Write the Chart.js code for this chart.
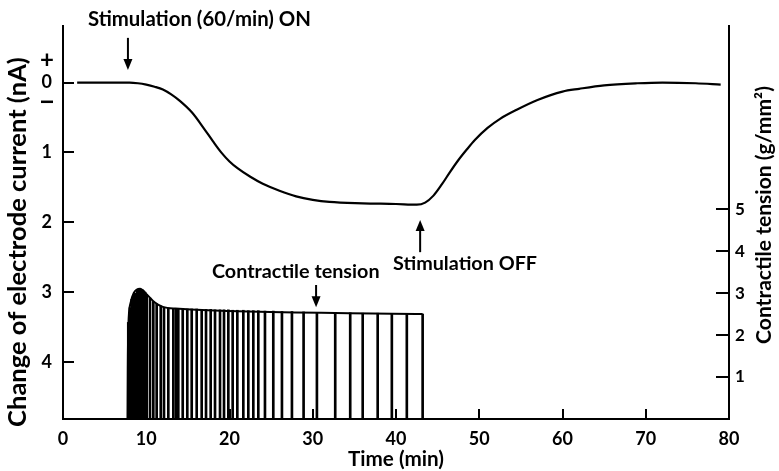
<!DOCTYPE html>
<html>
<head>
<meta charset="utf-8">
<script src="https://cdn.jsdelivr.net/npm/chart.js@4/dist/chart.umd.min.js"></script>
<style>
  body { margin: 0; background: #fff; }
  canvas { display: block; }
</style>
</head>
<body>
<canvas id="chart" width="779" height="471"></canvas>
<script>
// electrode current trace (min, nA; positive = downward)
const currentTime = [1.7, 5, 8, 9, 10, 11, 12, 13, 14, 15.5, 17, 18, 19, 20, 21, 22.5, 24, 26, 28, 30, 32, 36, 40, 42.5, 43.5, 44.5, 45.5, 46.5, 47.5, 48.5, 49.5, 51, 52.5, 54.5, 57, 60, 62, 65, 69, 72, 76, 79];
const currentNA = [0, 0, 0, 0.01, 0.03, 0.06, 0.1, 0.17, 0.26, 0.43, 0.67, 0.84, 1.0, 1.13, 1.23, 1.35, 1.45, 1.55, 1.63, 1.68, 1.71, 1.73, 1.74, 1.75, 1.72, 1.62, 1.46, 1.28, 1.11, 0.96, 0.82, 0.65, 0.52, 0.39, 0.25, 0.13, 0.09, 0.04, 0.01, 0.0, 0.01, 0.03];

// contractile tension: individual twitches (min, g/mm2)
const twitchTime = [7.84, 8.05, 8.25, 8.45, 8.65, 8.92, 9.05, 9.25, 9.4, 9.53, 9.7, 9.85, 10.05, 10.45, 10.85, 11.25, 11.74, 12.13, 12.65, 13.25, 13.57, 13.85, 14.38, 14.93, 15.46, 16.06, 16.66, 17.18, 17.74, 18.26, 18.86, 19.34, 19.86, 20.38, 20.94, 21.66, 22.26, 22.86, 23.46, 24.26, 25.26, 26.3, 27.5, 28.9, 30.5, 32.7, 34.5, 36.0, 37.8, 39.5, 41.3, 43.2];
const twitchTension = [2.3, 2.65, 2.85, 2.95, 3.0, 3.06, 3.08, 3.1, 3.09, 3.08, 3.05, 3.02, 2.97, 2.88, 2.8, 2.74, 2.69, 2.66, 2.64, 2.63, 2.63, 2.63, 2.63, 2.62, 2.62, 2.62, 2.61, 2.61, 2.61, 2.6, 2.6, 2.6, 2.6, 2.59, 2.59, 2.59, 2.58, 2.58, 2.58, 2.57, 2.57, 2.56, 2.56, 2.55, 2.54, 2.53, 2.53, 2.52, 2.52, 2.51, 2.5, 2.5];

// outline of the tension record
const envelopeTime = [7.75, 7.78, 7.85, 8.1, 8.5, 9.25, 10, 11, 12, 13.5, 43.2];
const envelopeTension = [0, 1.2, 2.2, 2.75, 3.0, 3.1, 2.98, 2.78, 2.67, 2.63, 2.5];

const timeTicks = [0, 10, 20, 30, 40, 50, 60, 70, 80];
const currentTicks = [0, 1, 2, 3, 4];
const tensionTicks = [1, 2, 3, 4, 5];

const FONT = 'Lato';

function pts(xs, ys) {
    return xs.map((x, i) => ({ x: x, y: ys[i] }));
}

function fitSize(ctx, text, width, weight) {
    ctx.font = weight + ' 20px ' + FONT;
    return 20 * width / ctx.measureText(text).width;
}

function drawText(ctx, text, x, y, size, weight, align) {
    ctx.font = weight + ' ' + size.toFixed(2) + 'px ' + FONT;
    ctx.textAlign = align || 'left';
    ctx.textBaseline = 'middle';
    ctx.fillText(text, x, y);
}

function arrow(ctx, x, y1, y2) {
    // shaft from y1 to head at y2
    const dir = y2 > y1 ? 1 : -1;
    ctx.beginPath();
    ctx.moveTo(x, y1);
    ctx.lineTo(x, y2 - dir * 8);
    ctx.lineWidth = 2;
    ctx.stroke();
    ctx.beginPath();
    ctx.moveTo(x, y2);
    ctx.lineTo(x - 4.5, y2 - dir * 11);
    ctx.lineTo(x + 4.5, y2 - dir * 11);
    ctx.closePath();
    ctx.fill();
}

const decorations = {
    id: 'decorations',
    afterDraw(chart) {
        const ctx = chart.ctx;
        const x = chart.scales.x, y = chart.scales.y, y2 = chart.scales.y2;
        const area = chart.chartArea;
        ctx.save();
        ctx.fillStyle = '#000';
        ctx.strokeStyle = '#000';
        ctx.lineWidth = 2;

        // inner tick marks
        ctx.beginPath();
        currentTicks.forEach(v => {
            const py = Math.round(y.getPixelForValue(v));
            ctx.moveTo(area.left, py);
            ctx.lineTo(area.left + 11, py);
        });
        tensionTicks.forEach(v => {
            const py = Math.round(y2.getPixelForValue(v));
            ctx.moveTo(area.right, py);
            ctx.lineTo(area.right - 13, py);
        });
        timeTicks.slice(1, -1).forEach(v => {
            const px = Math.round(x.getPixelForValue(v));
            ctx.moveTo(px, area.bottom);
            ctx.lineTo(px, area.bottom - 10);
        });
        ctx.stroke();

        // + / - around zero
        const z = y.getPixelForValue(0);
        ctx.font = 'bold 24px ' + FONT;
        ctx.textAlign = 'center';
        ctx.textBaseline = 'middle';
        ctx.fillText('+', 47, z - 22);
        ctx.fillRect(41, z + 18, 12, 2.5);

        // axis titles
        ctx.save();
        ctx.translate(18, 242);
        ctx.rotate(-Math.PI / 2);
        drawText(ctx, 'Change of electrode current (nA)', 0, 0,
            fitSize(ctx, 'Change of electrode current (nA)', 370, 'bold'), 'bold', 'center');
        ctx.restore();

        ctx.save();
        ctx.translate(764, 215);
        ctx.rotate(-Math.PI / 2);
        drawText(ctx, 'Contractile tension (g/mm\u00B2)', 0, 0,
            fitSize(ctx, 'Contractile tension (g/mm\u00B2)', 258, 'bold'), 'bold', 'center');
        ctx.restore();

        drawText(ctx, 'Time (min)', (area.left + area.right) / 2, 459,
            fitSize(ctx, 'Time (min)', 96, 'bold'), 'bold', 'center');

        // annotations
        const noteSize = fitSize(ctx, 'Stimulation OFF', 144, 'bold');
        drawText(ctx, 'Stimulation (60/min) ON', 88, 19, fitSize(ctx, 'Stimulation (60/min) ON', 223, 'bold'), 'bold');
        arrow(ctx, x.getPixelForValue(7.8), y.getPixelForValue(-0.64), y.getPixelForValue(-0.18));

        drawText(ctx, 'Stimulation OFF', 393, 264, noteSize, 'bold');
        arrow(ctx, x.getPixelForValue(42.9), y.getPixelForValue(2.43), y.getPixelForValue(1.97));

        drawText(ctx, 'Contractile tension', 212, 272, noteSize, 'bold');
        arrow(ctx, x.getPixelForValue(30.4), y.getPixelForValue(2.9), y.getPixelForValue(3.22));

        ctx.restore();
    }
};

new Chart(document.getElementById('chart'), {
    data: {
        datasets: [{
            type: 'line',
            data: pts(currentTime, currentNA),
            yAxisID: 'y',
            borderColor: '#000',
            borderWidth: 2.2,
            pointRadius: 0,
            cubicInterpolationMode: 'monotone'
        }, {
            type: 'line',
            data: pts(envelopeTime, envelopeTension),
            yAxisID: 'y2',
            borderColor: '#000',
            borderWidth: 2,
            pointRadius: 0,
            cubicInterpolationMode: 'monotone'
        }, {
            type: 'bar',
            data: pts(twitchTime, twitchTension),
            yAxisID: 'y2',
            backgroundColor: '#000',
            barThickness: 2
        }]
    },
    options: {
        responsive: false,
        animation: false,
        layout: { padding: { top: 26, left: 0, right: 0, bottom: 0 } },
        plugins: { legend: { display: false }, tooltip: { enabled: false } },
        scales: {
            x: {
                type: 'linear',
                offset: false,
                min: 0, max: 80,
                afterBuildTicks: s => { s.ticks = timeTicks.map(v => ({ value: v })); },
                afterFit: s => { s.height = 52; },
                grid: { display: false, drawTicks: false, offset: false },
                border: { display: true, color: '#000', width: 2 },
                ticks: { color: '#000', padding: 9, maxRotation: 0, font: { family: FONT, size: 18, weight: 'bold' } }
            },
            y: {
                type: 'linear',
                position: 'left',
                reverse: true,
                min: -0.81, max: 4.82,
                afterBuildTicks: s => { s.ticks = currentTicks.map(v => ({ value: v })); },
                afterFit: s => { s.width = 63; },
                grid: { display: false, drawTicks: false },
                border: { display: true, color: '#000', width: 2 },
                ticks: { color: '#000', padding: 11, font: { family: FONT, size: 18, weight: 'bold' } }
            },
            y2: {
                type: 'linear',
                position: 'right',
                min: 0, max: 9.36,
                afterBuildTicks: s => { s.ticks = tensionTicks.map(v => ({ value: v })); },
                afterFit: s => { s.width = 50; },
                grid: { display: false, drawTicks: false },
                border: { display: true, color: '#000', width: 2 },
                ticks: { color: '#000', padding: 6, font: { family: FONT, size: 17, weight: 'bold' } }
            }
        }
    },
    plugins: [decorations]
});
</script>
</body>
</html>
